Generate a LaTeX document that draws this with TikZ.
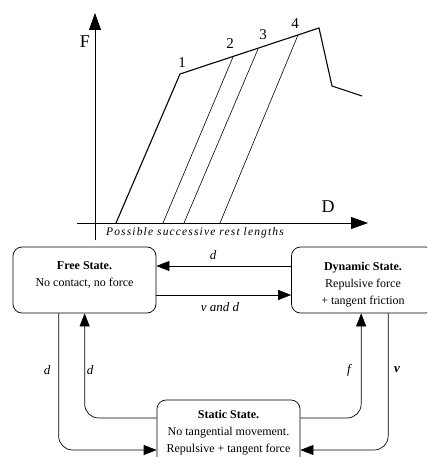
\documentclass[tikz,border=0pt]{standalone}
\usepackage{fontspec}
\setmainfont{Liberation Serif}
\usetikzlibrary{arrows.meta,calc}
\begin{document}
\begin{tikzpicture}[x=1pt,y=-1pt,
  axarr/.style={-{Triangle[length=17pt,width=12pt]}, line width=0.8pt},
  conn/.style={-{Triangle[length=13pt,width=10pt]}, line width=0.7pt, rounded corners=14pt},
  box/.style={draw, rounded corners=9pt, minimum width=143pt, minimum height=66pt, inner sep=0pt, line width=0.7pt},
  btxt/.style={align=center, font=\fontsize{12}{17}\selectfont, anchor=north, inner sep=0pt},
  lbl/.style={font=\fontsize{13}{14}\selectfont\itshape, inner sep=0pt},
  num/.style={font=\fontsize{15}{15}\selectfont, inner sep=0pt},
  axl/.style={font=\fontsize{18}{18}\selectfont, inner sep=0pt}]
\useasboundingbox (0,0) rectangle (426,457);
% graph
\draw[axarr] (95,240) -- (95,13);
\draw[axarr] (77,223) -- (368,223);
\node[axl] (F) at (85,42) {F};
\node[axl] (D) at (328,207) {D};
\draw[line width=1.1pt, line join=miter] (116,223) -- (180,74) -- (319,28) -- (332,86) -- (362,96);
\draw[line width=0.6pt] (163,223) -- (233,57);
\draw[line width=0.6pt] (184,223) -- (258,49);
\draw[line width=0.6pt] (220,223) -- (298,35);
\node[num] (n1) at (182,63) {1};
\node[num] (n2) at (230,44) {2};
\node[num] (n3) at (263,35) {3};
\node[num] (n4) at (295,24) {4};
\node[font=\fontsize{11.5}{12}\selectfont\itshape\addfontfeatures{LetterSpace=10}, inner sep=0pt] (rest) at (195,233) {Possible successive rest lengths};
% states
\node[box] (free) at (84.5,280) {};
\node[box] (dyn) at (363,280) {};
\node[box] (stat) at (228.5,433) {};
\node[btxt] (freet) at ($(free.north)+(0,15)$) {\textbf{Free State.}\\No contact, no force};
\node[btxt] (dynt) at ($(dyn.north)+(0,15)$) {\textbf{Dynamic State.}\\Repulsive force\\+ tangent friction};
\node[btxt] (statt) at ($(stat.north)+(0,10)$) {\textbf{Static State.}\\No tangential movement.\\Repulsive + tangent force};
% connectors
\draw[conn] ($(dyn.west)+(0,-14)$) -- ($(free.east)+(0,-14)$);
\draw[conn] ($(free.east)+(0,15)$) -- ($(dyn.west)+(0,15)$);
\draw[conn] ($(free.south west)+(46,0)$) |- ($(stat.west)+(0,17)$);
\draw[conn] ($(stat.west)+(0,-15)$) -| ($(free.south west)+(72,0)$);
\draw[conn] ($(stat.east)+(0,-15)$) -| ($(dyn.south west)+(70,0)$);
\draw[conn] ($(dyn.south west)+(97,0)$) |- ($(stat.east)+(0,17)$);
% labels
\node[lbl] (l1) at (213,255) {d};
\node[lbl] (l2) at (220,307) {v and d};
\node[lbl] (l3) at (47,370) {d};
\node[lbl] (l4) at (90,370) {d};
\node[lbl] (l5) at (349,370) {f};
\node[lbl, font=\fontsize{13}{14}\selectfont\bfseries\itshape] (l6) at (397,370) {v};
\end{tikzpicture}
\end{document}
